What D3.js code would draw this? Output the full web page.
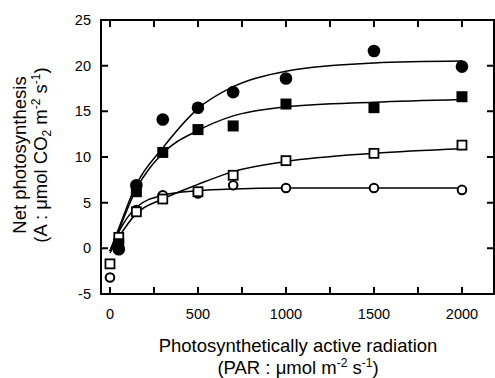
<!DOCTYPE html>
<html>
<head>
<meta charset="utf-8">
<script src="https://cdn.jsdelivr.net/npm/d3@7"></script>
<style>
  body { margin: 0; background: #fff; }
  text { font-family: "Liberation Sans", Arial, sans-serif; fill: #000; }
</style>
</head>
<body>
<div id="chart"></div>
<script>
// PAR levels (umol m-2 s-1)
var par = [0, 50, 150, 300, 500, 700, 1000, 1500, 2000];

// measured net photosynthesis (null = not shown)
var filledCircle = [null, -0.1, 6.9, 14.1, 15.4, 17.1, 18.6, 21.6, 19.9];
var filledSquare = [null, 0.5, 6.2, 10.5, 13.0, 13.4, 15.8, 15.4, 16.6];
var openSquare   = [-1.7, 1.2, 4.0, 5.4, 6.2, 8.0, 9.6, 10.4, 11.3];
var openCircle   = [-3.2, 0.8, 4.2, 5.8, 6.0, 6.9, 6.6, 6.6, 6.4];

// fitted curves at the same PAR levels
var fitFilledCircle = [-0.3, 2.2, 7.0, 11.0, 15.3, 17.7, 19.4, 20.3, 20.5];
var fitFilledSquare = [-0.3, 2.0, 6.5, 10.4, 12.9, 14.5, 15.5, 16.0, 16.3];
var fitOpenSquare   = [-0.5, 1.2, 3.8, 5.4, 7.0, 8.4, 9.5, 10.4, 10.9];
var fitOpenCircle   = [-0.3, 1.8, 4.5, 5.8, 6.3, 6.5, 6.6, 6.6, 6.6];

var xTicks = [0, 500, 1000, 1500, 2000];
var xMinor = [250, 750, 1250, 1750];
var yTicks = [-5, 0, 5, 10, 15, 20, 25];

var margin = { top: 20, right: 1, bottom: 84, left: 101 },
  width = 495 - margin.left - margin.right,
  height = 378 - margin.top - margin.bottom;

var svg = d3.select("#chart")
  .append("svg")
  .attr("width", 495)
  .attr("height", 378);

var g = svg.append("g")
  .attr("transform", "translate(" + margin.left + "," + margin.top + ")");

var x = d3.scaleLinear().domain([-51, 2182]).range([0, width]);
var y = d3.scaleLinear().domain([-5, 25]).range([height, 0]);

// frame
g.append("rect")
  .attr("width", width)
  .attr("height", height)
  .attr("fill", "none")
  .attr("stroke", "#000")
  .attr("stroke-width", 2);

var tickLen = 7;

// bottom + top ticks (inward)
g.selectAll(".xt")
  .data(xTicks.concat(xMinor))
  .enter()
  .append("path")
  .attr("d", function (d) {
    var px = x(d);
    return "M" + px + "," + height + "V" + (height - tickLen) +
      "M" + px + ",0V" + tickLen;
  })
  .attr("stroke", "#000")
  .attr("stroke-width", 2);

// left + right ticks (inward)
g.selectAll(".yt")
  .data(yTicks)
  .enter()
  .append("path")
  .attr("d", function (d) {
    var py = y(d);
    return "M0," + py + "H" + tickLen + "M" + width + "," + py + "H" + (width - tickLen);
  })
  .attr("stroke", "#000")
  .attr("stroke-width", 2);

// tick labels
g.selectAll(".xl")
  .data(xTicks)
  .enter()
  .append("text")
  .attr("x", function (d) { return x(d); })
  .attr("y", height + 25)
  .attr("text-anchor", "middle")
  .style("font-size", "14.5px")
  .text(function (d) { return d; });

g.selectAll(".yl")
  .data(yTicks)
  .enter()
  .append("text")
  .attr("x", -10)
  .attr("y", function (d) { return y(d) + 5; })
  .attr("text-anchor", "end")
  .style("font-size", "14.5px")
  .text(function (d) { return d; });

// fitted curves
var fits = [fitFilledCircle, fitFilledSquare, fitOpenSquare, fitOpenCircle];
var line = d3.line()
  .x(function (d) { return x(d[0]); })
  .y(function (d) { return y(d[1]); })
  .curve(d3.curveMonotoneX);

fits.forEach(function (f) {
  g.append("path")
    .datum(par.map(function (p, i) { return [p, f[i]]; }))
    .attr("fill", "none")
    .attr("stroke", "#000")
    .attr("stroke-width", 1.5)
    .attr("d", line);
});

function pts(vals) {
  return par.map(function (p, i) { return [p, vals[i]]; })
    .filter(function (d) { return d[1] !== null; });
}

// open circles
g.selectAll(".oc")
  .data(pts(openCircle))
  .enter()
  .append("circle")
  .attr("cx", function (d) { return x(d[0]); })
  .attr("cy", function (d) { return y(d[1]); })
  .attr("r", 4.3)
  .attr("fill", "#fff")
  .attr("stroke", "#000")
  .attr("stroke-width", 2);

// open squares
g.selectAll(".os")
  .data(pts(openSquare))
  .enter()
  .append("rect")
  .attr("x", function (d) { return x(d[0]) - 4.5; })
  .attr("y", function (d) { return y(d[1]) - 4.5; })
  .attr("width", 9)
  .attr("height", 9)
  .attr("fill", "#fff")
  .attr("stroke", "#000")
  .attr("stroke-width", 1.8);

// filled squares
g.selectAll(".fs")
  .data(pts(filledSquare))
  .enter()
  .append("rect")
  .attr("x", function (d) { return x(d[0]) - 5.5; })
  .attr("y", function (d) { return y(d[1]) - 5.5; })
  .attr("width", 11)
  .attr("height", 11)
  .attr("fill", "#000");

// filled circles
g.selectAll(".fc")
  .data(pts(filledCircle))
  .enter()
  .append("circle")
  .attr("cx", function (d) { return x(d[0]); })
  .attr("cy", function (d) { return y(d[1]); })
  .attr("r", 6.3)
  .attr("fill", "#000");

// x axis title
svg.append("text")
  .attr("x", 298)
  .attr("y", 352)
  .attr("text-anchor", "middle")
  .style("font-size", "18.5px")
  .text("Photosynthetically active radiation");

var xt2 = svg.append("text")
  .attr("x", 298)
  .attr("y", 374)
  .attr("text-anchor", "middle")
  .style("font-size", "18.5px");
xt2.append("tspan").text("(PAR : \u03bcmol m");
xt2.append("tspan").attr("dy", -7).style("font-size", "12px").text("-2");
xt2.append("tspan").attr("dy", 7).text(" s");
xt2.append("tspan").attr("dy", -7).style("font-size", "12px").text("-1");
xt2.append("tspan").attr("dy", 7).text(")");

// y axis title
svg.append("text")
  .attr("transform", "translate(26,155) rotate(-90)")
  .attr("text-anchor", "middle")
  .style("font-size", "18.5px")
  .text("Net photosynthesis");

var yt2 = svg.append("text")
  .attr("transform", "translate(47,155) rotate(-90)")
  .attr("text-anchor", "middle")
  .style("font-size", "18.5px");
yt2.append("tspan").text("(A : \u03bcmol CO");
yt2.append("tspan").attr("dy", 4).style("font-size", "12px").text("2");
yt2.append("tspan").attr("dy", -4).text(" m");
yt2.append("tspan").attr("dy", -7).style("font-size", "12px").text("-2");
yt2.append("tspan").attr("dy", 7).text(" s");
yt2.append("tspan").attr("dy", -7).style("font-size", "12px").text("-1");
yt2.append("tspan").attr("dy", 7).text(")");
</script>
</body>
</html>
